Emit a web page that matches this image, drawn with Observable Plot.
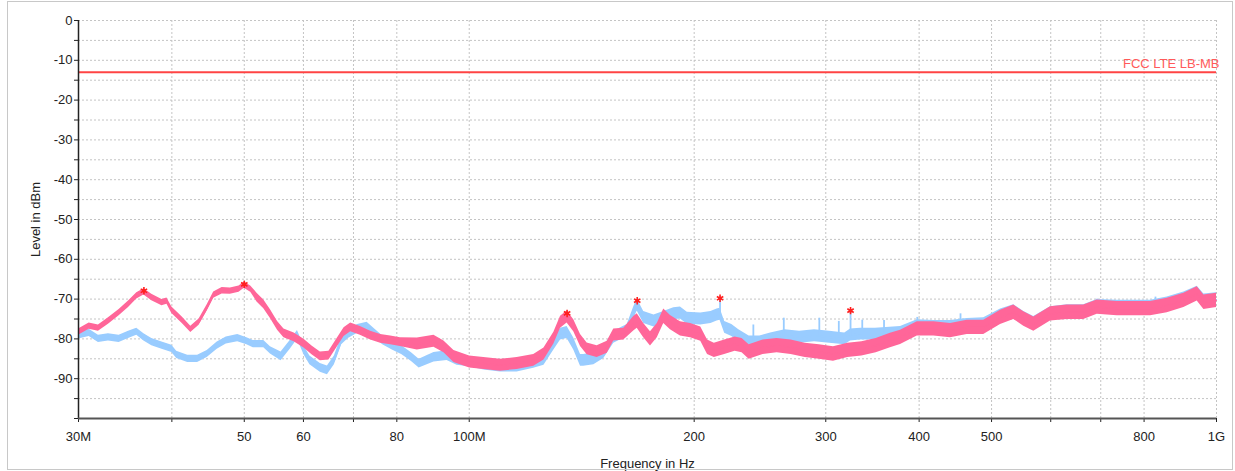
<!DOCTYPE html>
<html><head><meta charset="utf-8">
<script src="https://cdn.jsdelivr.net/npm/d3@7"></script>
<script src="https://cdn.jsdelivr.net/npm/@observablehq/plot@0.6"></script>
<style>
html,body{margin:0;padding:0;background:#fff;}
#wrap{position:relative;width:1235px;height:471px;overflow:hidden;font-family:"Liberation Sans",Arial,sans-serif;}
#border{position:absolute;left:7px;top:1px;width:1224px;height:467px;border:1px solid #c8c8c8;pointer-events:none;}
</style></head><body><div id="wrap"><div id="border"></div></div>
<script>
// ---- data (frequency in MHz, level in dBm) ----
const pinkFreq = [30, 31, 31.9, 32.9, 34, 35, 35.9, 36.7, 37.6, 38.8, 39.4, 40, 41.3, 42.4, 43.5, 44.6, 45.5, 46.7, 47.9, 49.2, 50, 51, 52, 53.1, 54.2, 55.4, 56.5, 58.3, 60.1, 61.6, 63.2, 64.9, 66.2, 68, 69.4, 71.5, 73.8, 76.1, 78.5, 80.9, 85.2, 89.7, 92.5, 95.4, 100.1, 104.6, 110.1, 115.9, 122, 125.9, 129.8, 132.5, 135.2, 138, 140.9, 143.8, 148.3, 153, 156.1, 161, 166, 167.8, 171.2, 174.8, 178.5, 182.1, 185.9, 189.8, 191.7, 197.8, 204.1, 208.4, 212.8, 219.7, 226.9, 231.8, 236.9, 247.3, 258.2, 269.6, 281.6, 294.1, 307.2, 321, 335.3, 350.4, 366.1, 377.7, 397.7, 418.6, 440.6, 463.8, 488.1, 514, 535.4, 552.2, 569.5, 599.5, 631.2, 664.3, 692.4, 736.3, 775.3, 816.1, 859, 904.3, 942.3, 961.9, 1000];
const pinkLevel = [-78.3, -76.8, -77.3, -75.5, -73.4, -71.3, -69.2, -68.2, -69.6, -70.9, -70.5, -72.8, -75.3, -77.6, -75.8, -72.2, -69.0, -67.9, -68.0, -67.5, -66.5, -67.5, -69.6, -71.3, -73.8, -76.7, -78.6, -79.6, -81.2, -82.9, -84.4, -84.2, -81.7, -78.3, -77.1, -78.0, -79.2, -80.0, -80.4, -80.8, -81.3, -80.6, -82.0, -84.4, -85.8, -86.2, -86.6, -86.2, -85.4, -83.8, -79.8, -75.8, -74.5, -76.7, -80.4, -82.5, -83.2, -82.1, -79.0, -78.8, -76.2, -75.5, -77.9, -80.0, -77.9, -74.3, -75.9, -77.0, -77.5, -77.9, -78.8, -82.1, -82.9, -82.1, -81.3, -81.7, -83.3, -82.1, -81.7, -82.1, -82.9, -83.3, -83.8, -82.9, -82.5, -81.7, -80.4, -79.6, -77.5, -77.5, -77.9, -77.1, -77.1, -74.6, -73.3, -75.0, -76.3, -73.7, -73.3, -73.3, -72.0, -72.4, -72.4, -72.4, -71.6, -70.3, -68.7, -70.8, -70.3];
const pinkSpread = [0.8, 0.8, 0.8, 0.8, 0.8, 0.8, 0.8, 0.8, 0.8, 0.8, 0.8, 0.8, 0.8, 0.8, 0.8, 0.8, 0.8, 0.8, 0.8, 0.8, 0.8, 0.8, 1.1, 1.1, 1.1, 1.1, 1.1, 1.1, 1.1, 1.1, 1.1, 1.1, 1.1, 1.1, 1.1, 1.1, 1.1, 1.1, 1.1, 1.1, 1.5, 1.5, 1.5, 1.5, 1.5, 1.5, 1.5, 1.5, 1.5, 1.5, 1.5, 1.5, 1.5, 1.5, 1.5, 1.5, 1.5, 1.5, 1.5, 1.5, 1.8, 1.8, 1.8, 1.8, 1.8, 1.8, 1.8, 1.8, 1.8, 1.8, 1.8, 1.8, 1.8, 1.8, 1.8, 1.8, 1.8, 1.8, 1.8, 1.8, 1.8, 1.8, 1.8, 1.8, 1.8, 1.8, 1.8, 1.8, 1.8, 1.8, 1.8, 1.8, 1.8, 1.8, 1.8, 1.8, 1.8, 1.8, 1.8, 1.8, 1.8, 1.8, 1.8, 1.8, 1.8, 1.8, 1.8, 1.8, 1.8];

const blueFreq = [30, 31, 31.9, 32.9, 34, 35, 35.9, 36.7, 37.6, 38.8, 40, 40.6, 42, 43.3, 44.6, 46, 47.3, 49, 50.4, 51.4, 53.1, 54.2, 56, 57.7, 58.9, 60.1, 61.2, 63.2, 64.6, 66, 67.5, 68.9, 70.9, 73, 74.4, 76.6, 78.9, 81.3, 83.7, 85.7, 89.7, 93.4, 96.3, 100.1, 104.6, 110.1, 115.9, 122, 125.9, 129.8, 132.5, 135.2, 138, 140.9, 142.3, 146.8, 151.4, 156.1, 162.7, 166, 167.8, 171.2, 176.7, 182.1, 187.8, 191.7, 195.8, 204.1, 210.6, 214.6, 216.6, 219.7, 224.6, 229.5, 236.9, 244.8, 253.1, 264.6, 276.8, 289.8, 303.6, 318.1, 323.8, 333.8, 349.6, 377.7, 397.7, 418.6, 440.6, 463.8, 488.1, 514, 535.4, 552.2, 569.5, 599.5, 631.2, 664.3, 692.4, 736.3, 775.3, 816.1, 859, 904.3, 942.3, 961.9, 1000];
const blueLevel = [-79.1, -78.5, -80.0, -79.6, -80.0, -79.0, -78.2, -79.6, -80.8, -81.7, -82.5, -84.0, -85.0, -85.0, -83.8, -81.7, -80.4, -79.8, -80.6, -81.3, -81.3, -82.9, -84.4, -81.3, -79.0, -82.9, -85.4, -87.3, -87.9, -85.4, -80.4, -78.8, -77.5, -76.9, -78.3, -80.4, -81.7, -82.9, -84.6, -86.2, -84.6, -84.2, -85.4, -85.8, -86.6, -87.1, -87.1, -86.2, -85.4, -81.3, -78.8, -78.4, -81.3, -85.4, -85.4, -85.0, -83.4, -79.6, -77.9, -73.5, -71.5, -74.6, -75.5, -74.6, -73.7, -73.5, -74.8, -75.0, -74.6, -74.0, -73.8, -77.1, -77.9, -79.2, -80.8, -80.8, -80.0, -79.2, -79.6, -79.2, -79.6, -80.0, -79.0, -78.8, -78.8, -78.6, -76.9, -77.1, -77.1, -76.6, -76.4, -74.2, -73.1, -74.8, -76.1, -73.6, -73.1, -73.1, -71.8, -72.0, -72.0, -72.0, -71.2, -69.9, -68.5, -70.4, -70.1];
const blueSpread = [0.9, 0.9, 0.9, 0.9, 0.9, 0.9, 0.9, 0.9, 0.9, 0.9, 0.9, 0.9, 0.9, 0.9, 0.9, 0.9, 0.9, 0.9, 0.9, 0.9, 0.9, 0.9, 1.1, 1.1, 1.1, 1.1, 1.1, 1.1, 1.1, 1.1, 1.1, 1.1, 1.1, 1.1, 1.1, 1.1, 1.1, 1.1, 1.1, 1.1, 1.2, 1.2, 1.2, 1.2, 1.2, 1.2, 1.2, 1.2, 1.2, 1.5, 1.5, 1.5, 1.5, 1.5, 1.5, 1.5, 1.5, 1.5, 1.5, 1.5, 1.5, 1.5, 1.5, 1.5, 1.5, 1.5, 1.5, 1.5, 1.5, 1.5, 1.5, 1.5, 1.5, 1.5, 1.5, 1.5, 1.5, 1.5, 1.5, 1.5, 1.5, 1.5, 1.5, 1.5, 1.5, 1.7, 1.7, 1.7, 1.7, 1.7, 1.7, 1.7, 1.7, 1.7, 1.7, 1.7, 1.7, 1.7, 1.7, 1.7, 1.7, 1.7, 1.7, 1.7, 1.7, 1.7, 1.7];

const spikeFreq = [167.8, 216.6, 240.0, 263.6, 294.1, 312.3, 323.8, 335.7, 359.0, 397.7, 454.4, 692.4, 736.3, 828.6];
const spikeTop  = [-70.6, -69.8, -76.5, -74.8, -74.8, -75.6, -73.0, -75.3, -75.4, -74.6, -73.7, -70.0, -70.5, -69.5];
const spikeBase = [-73.0, -75.0, -80.5, -79.5, -79.5, -79.8, -79.5, -79.0, -79.0, -77.5, -77.0, -72.5, -72.5, -72.5];

const markerFreq  = [36.7, 50.0, 135.2, 167.8, 216.6, 323.8];
const markerLevel = [-67.9, -66.3, -73.6, -70.4, -69.8, -72.9];

const limitLevel = -13;
const limitLabel = "FCC LTE LB-MB";

const xTicks = [30, 40, 50, 60, 70, 80, 100, 200, 300, 400, 500, 600, 700, 800, 1000];
const xTickLabels = ["30M", "", "50", "60", "", "80", "100M", "200", "300", "400", "500", "", "", "800", "1G"];
const yTicks = [-100, -95, -90, -85, -80, -75, -70, -65, -60, -55, -50, -45, -40, -35, -30, -25, -20, -15, -10, -5, 0];
const yTickLabels = ["", "", "-90", "", "-80", "", "-70", "", "-60", "", "-50", "", "-40", "", "-30", "", "-20", "", "-10", "", "0"];

const xLabel = "Frequency in Hz";
const yLabel = "Level in dBm";

// ---- tables ----
const pink = pinkFreq.map((f, i) => ({f, v: pinkLevel[i], lo: pinkLevel[i] - pinkSpread[i], hi: pinkLevel[i] + pinkSpread[i]}));
const blue = blueFreq.map((f, i) => ({f, v: blueLevel[i], lo: blueLevel[i] - blueSpread[i], hi: blueLevel[i] + blueSpread[i]}));
const spikes = spikeFreq.map((f, i) => ({f, top: spikeTop[i], base: spikeBase[i]}));
const markers = markerFreq.map((f, i) => ({f, v: markerLevel[i]}));

const BLUE = "#99ccff", PINK = "#ff6699";

const chart = Plot.plot({
  width: 1235, height: 471,
  marginLeft: 78, marginRight: 19, marginTop: 20, marginBottom: 53,
  style: {fontFamily: "'Liberation Sans', Arial, sans-serif", fontSize: "13px", color: "#222", background: "transparent"},
  x: {type: "log", domain: [xTicks[0], xTicks[xTicks.length - 1]]},
  y: {domain: [yTicks[0], yTicks[yTicks.length - 1]]},
  marks: [
    Plot.gridY(yTicks.slice(1), {stroke: "#c4c4c4", strokeOpacity: 1, strokeDasharray: "2,2"}),
    Plot.gridX(xTicks.slice(1), {stroke: "#c4c4c4", strokeOpacity: 1, strokeDasharray: "2,2"}),
    Plot.axisY(yTicks, {tickSize: 4, tickPadding: 2, tickFormat: d => yTickLabels[yTicks.indexOf(d)],
      label: yLabel, labelAnchor: "center", labelArrow: "none", labelOffset: 48, fontSize: 13}),
    Plot.axisX(xTicks, {tickSize: 4, tickPadding: 9, tickFormat: d => xTickLabels[xTicks.indexOf(d)],
      label: xLabel, labelAnchor: "center", labelArrow: "none", labelOffset: 49, fontSize: 13}),
    Plot.areaY(blue, {x: "f", y1: "lo", y2: "hi", fill: BLUE}),
    Plot.line(blue, {x: "f", y: "v", stroke: BLUE, strokeWidth: 1.2}),
    Plot.ruleX(spikes, {x: "f", y1: "base", y2: "top", stroke: BLUE, strokeWidth: 1.8}),
    Plot.areaY(pink, {x: "f", y1: "lo", y2: "hi", fill: PINK}),
    Plot.line(pink, {x: "f", y: "v", stroke: PINK, strokeWidth: 1.2}),
    Plot.ruleY([limitLevel], {stroke: "#ff4444", strokeWidth: 1.8}),
    Plot.text([limitLabel], {frameAnchor: "right", y: () => limitLevel, text: d => d, textAnchor: "end", dx: 3, dy: -8, fill: "#ff5a5a", fontSize: 13}),
    Plot.dot(markers, {x: "f", y: "v", symbol: "asterisk", r: 3.5, stroke: "#ff2020", strokeWidth: 1.6}),
    Plot.dot(markers, {x: "f", y: "v", symbol: "circle", r: 1.8, fill: "#ff2020"}),
    Plot.ruleX([xTicks[0]], {stroke: "#222", strokeWidth: 1.5}),
    Plot.ruleY([yTicks[0]], {stroke: "#555", strokeWidth: 2})
  ]
});
document.getElementById("wrap").prepend(chart);
</script>
</body></html>
